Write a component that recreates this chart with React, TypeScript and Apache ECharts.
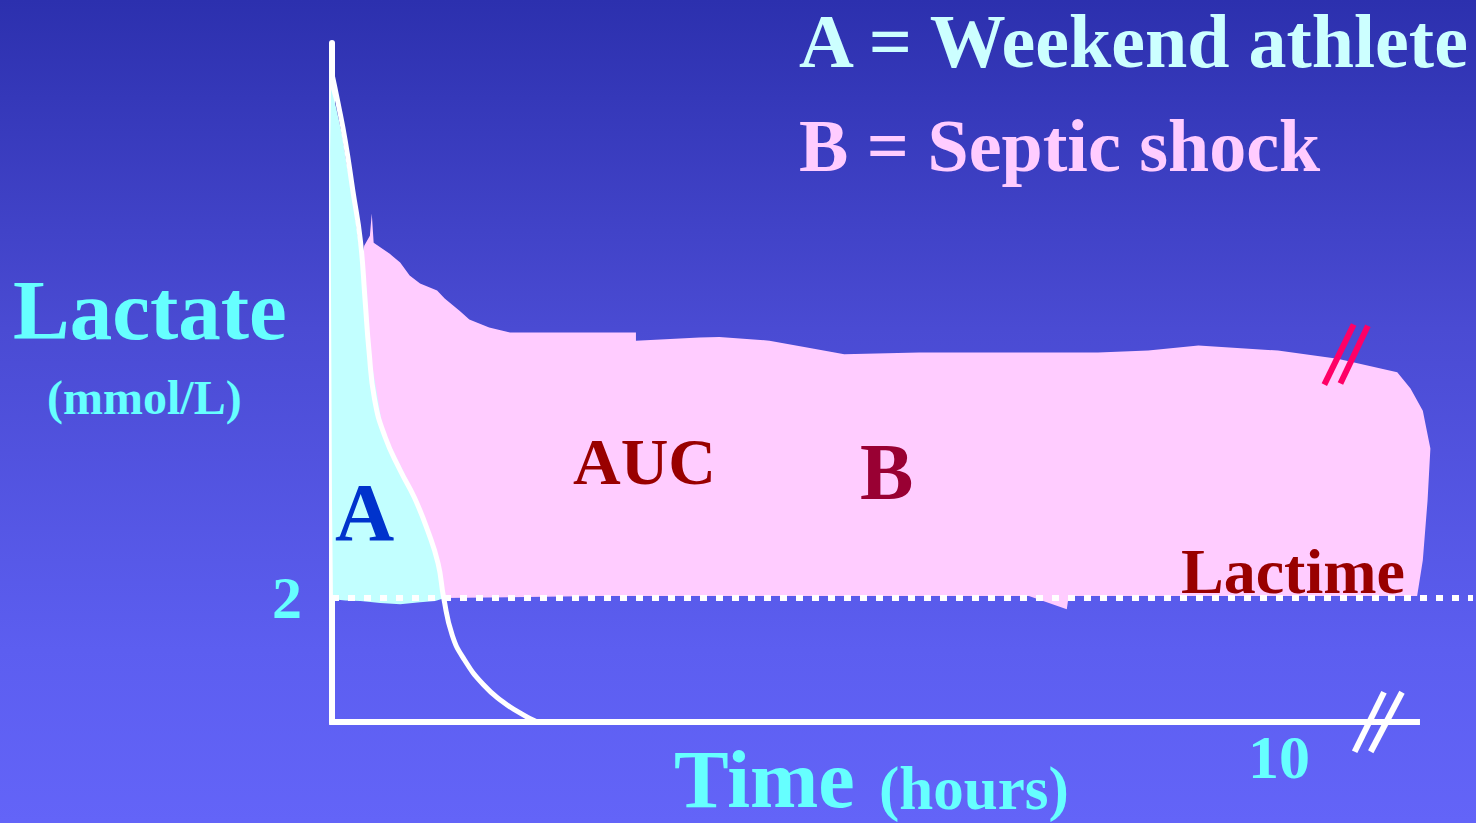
import React, { useEffect, useRef } from 'react';
import * as echarts from 'echarts';

const FONT = '"Liberation Serif", "Times New Roman", Times, serif';

// Axis ticks (time in hours, lactate in mmol/L)
const X_TICK_LABELS = [10];
const Y_TICK_LABELS = [2];
const LACTIME_LEVEL = 2;

// A = weekend athlete: outline of the filled area [hours, mmol/L]
const AREA_A: number[][] = [
  [-0.01, 10.21], [0.04, 9.93], [0.11, 9.45], [0.15, 9.05], [0.21, 8.57], [0.28, 7.76],
  [0.37, 6.96], [0.38, 6.31], [0.42, 5.78], [0.54, 4.7], [0.8, 3.9], [0.87, 3.62],
  [1.0, 3.09], [1.11, 2.56], [1.19, 2.0], [1.09, 1.95], [0.93, 1.93], [0.72, 1.9],
  [0.51, 1.92], [0.3, 1.95], [0.14, 1.96], [0.01, 1.98], [0.0, 3.57], [-0.01, 6.79],
  [-0.02, 9.21],
];

// A = weekend athlete: lactate curve
const CURVE_A: number[][] = [
  [0.0, 10.45], [0.06, 10.01], [0.14, 9.37], [0.22, 8.57], [0.3, 7.76], [0.35, 6.79],
  [0.39, 6.0], [0.45, 5.2], [0.56, 4.6], [0.72, 4.06], [0.87, 3.62], [1.01, 3.09],
  [1.12, 2.56], [1.18, 2.0], [1.27, 1.4], [1.4, 1.0], [1.6, 0.6], [1.8, 0.33],
  [1.98, 0.15], [2.1, 0.05], [2.17, 0.0],
];

// B = septic shock: outline of the filled area (AUC above lactime level)
const AREA_B: number[][] = [
  [1.17, 2.0], [1.12, 2.56], [1.01, 3.09], [0.87, 3.62], [0.72, 4.06], [0.54, 4.7],
  [0.42, 5.39], [0.37, 6.31], [0.34, 6.96], [0.32, 7.44], [0.34, 7.68], [0.4, 7.84],
  [0.42, 8.2], [0.44, 7.73], [0.61, 7.55], [0.72, 7.41], [0.82, 7.2], [0.93, 7.07],
  [1.11, 6.96], [1.19, 6.83], [1.35, 6.63], [1.45, 6.49], [1.66, 6.36], [1.88, 6.28],
  [3.21, 6.28], [3.21, 6.15], [3.88, 6.2], [4.09, 6.21], [4.62, 6.15], [5.09, 6.02],
  [5.41, 5.93], [6.2, 5.96], [7.04, 5.96], [8.09, 5.96], [8.62, 5.99], [9.15, 6.07],
  [9.99, 5.99], [10.62, 5.86], [11.25, 5.64], [11.39, 5.38], [11.52, 5.02], [11.6, 4.41],
  [11.57, 3.57], [11.52, 2.61], [11.46, 2.03], [7.78, 2.03], [7.76, 1.82], [7.36, 2.03],
  [2.82, 2.03],
];

// Axis line and lactime reference line
const X_AXIS_LINE: number[][] = [[-0.03, 0], [11.49, 0]];
const LACTIME_LINE: number[][] = [[0, LACTIME_LEVEL], [12.05, LACTIME_LEVEL]];

// Break marks
const BREAK_B1: number[][] = [[10.48, 5.44], [10.79, 6.41]];
const BREAK_B2: number[][] = [[10.65, 5.46], [10.94, 6.39]];
const BREAK_X1: number[][] = [[10.8, -0.48], [11.11, 0.48]];
const BREAK_X2: number[][] = [[10.97, -0.48], [11.3, 0.48]];

const polygonSeries = (pts: number[][], color: string) => ({
  type: 'custom',
  coordinateSystem: 'cartesian2d',
  clip: false,
  silent: true,
  data: [[0, 0]],
  renderItem: (_params: any, api: any) => ({
    type: 'polygon',
    shape: { points: pts.map((p) => api.coord(p)) },
    style: { fill: color },
  }),
});

const lineSeries = (pts: number[][], color: string, width: number, extra: any = {}) => ({
  type: 'line',
  data: pts,
  symbol: 'none',
  clip: false,
  silent: true,
  lineStyle: { color, width, ...(extra.lineStyle || {}) },
  smooth: extra.smooth ?? false,
});

const txt = (text: string, x: number, y: number, size: number, color: string) => ({
  type: 'text',
  x,
  y,
  z: 100,
  silent: true,
  style: {
    text,
    fill: color,
    font: `bold ${size}px ${FONT}`,
    align: 'left',
    verticalAlign: 'middle',
  },
});

export default function App() {
  const ref = useRef<HTMLDivElement>(null);
  useEffect(() => {
    document.body.style.margin = '0';
    const chart = echarts.init(ref.current!, null, { renderer: 'svg' });
    chart.setOption({
      animation: false,
      backgroundColor: new echarts.graphic.LinearGradient(0, 0, 0, 1, [
        { offset: 0, color: '#2C30AE' },
        { offset: 0.4, color: '#4A4BD3' },
        { offset: 0.79, color: '#5C5EF0' },
        { offset: 1, color: '#6364F8' },
      ]),
      grid: { left: 332, right: 0, top: 43, bottom: 101 },
      xAxis: {
        type: 'value',
        min: 0,
        max: 12.05,
        interval: 10,
        axisLine: { show: false },
        axisTick: { show: false },
        splitLine: { show: false },
        axisLabel: {
          formatter: (v: number) => (X_TICK_LABELS.includes(v) ? String(v) : ''),
          margin: 35,
          verticalAlign: 'middle',
          fontSize: 62,
          fontWeight: 'bold',
          fontFamily: FONT,
          color: '#66FFFF',
        },
      },
      yAxis: {
        type: 'value',
        min: 0,
        max: 10.95,
        interval: 2,
        axisLine: { show: true, lineStyle: { color: '#FFFFFF', width: 6 } },
        axisTick: { show: false },
        splitLine: { show: false },
        axisLabel: {
          formatter: (v: number) => (Y_TICK_LABELS.includes(v) ? String(v) : ''),
          margin: 30,
          fontSize: 60,
          fontWeight: 'bold',
          fontFamily: FONT,
          color: '#66FFFF',
        },
      },
      series: [
        polygonSeries(AREA_B, '#FFCCFF'),
        polygonSeries(AREA_A, '#C2FFFF'),
        lineSeries(CURVE_A, '#FFFFFF', 5, { smooth: 0.5 }),
        lineSeries(LACTIME_LINE, '#FFFFFF', 6, { lineStyle: { type: [7, 9] } }),
        lineSeries(X_AXIS_LINE, '#FFFFFF', 6),
        lineSeries(BREAK_B1, '#FF0066', 6),
        lineSeries(BREAK_B2, '#FF0066', 6),
        lineSeries(BREAK_X1, '#FFFFFF', 6),
        lineSeries(BREAK_X2, '#FFFFFF', 6),
      ],
      graphic: [
        txt('A = Weekend athlete', 799, 41, 76, '#CCFFFF'),
        txt('B = Septic shock', 799, 146, 74, '#FFCCFF'),
        txt('Lactate', 13, 310, 85, '#66FFFF'),
        txt('(mmol/L)', 47, 397, 48, '#66FFFF'),
        txt('Time', 674, 779, 82, '#66FFFF'),
        txt('(hours)', 879, 788, 61, '#66FFFF'),
        txt('AUC', 573, 461, 66, '#990000'),
        txt('B', 860, 472, 80, '#990033'),
        txt('A', 335, 512, 82, '#0033CC'),
        txt('Lactime', 1181, 571, 64, '#990000'),
      ],
    });
    return () => chart.dispose();
  }, []);
  return <div ref={ref} style={{ position: 'fixed', left: 0, top: 0, width: 1476, height: 823 }} />;
}
